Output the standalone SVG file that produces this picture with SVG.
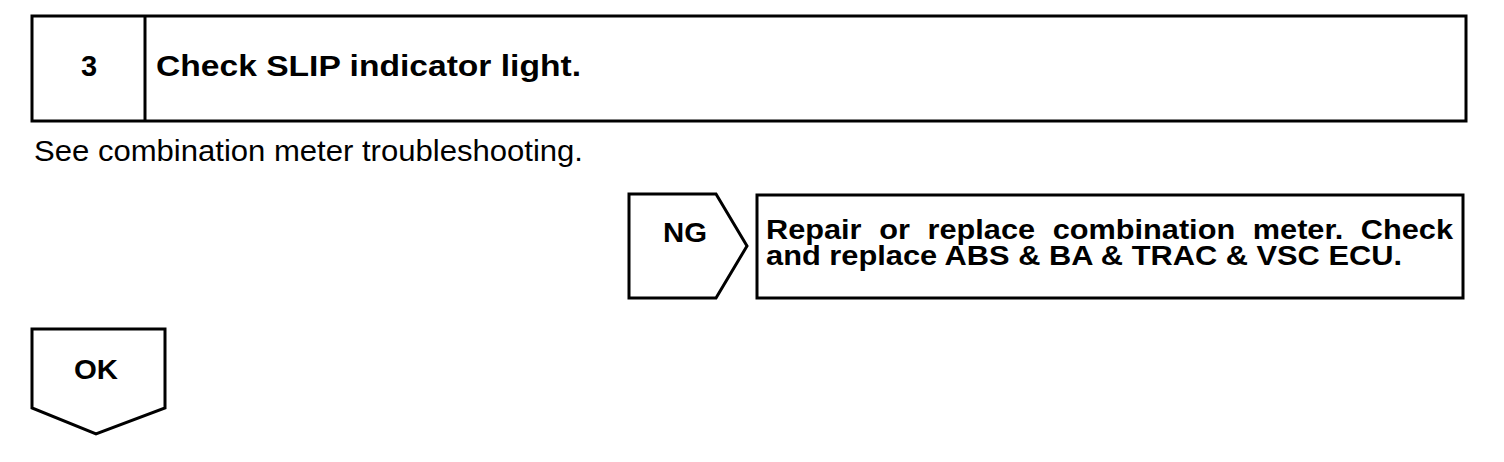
<svg xmlns="http://www.w3.org/2000/svg" width="1504" height="462" viewBox="0 0 1504 462">
<style>
.box{fill:#fff;stroke:#000;stroke-width:3;stroke-linejoin:miter}
.b{font-family:"Liberation Sans",Arial,sans-serif;font-weight:bold;fill:#000}
.r{font-family:"Liberation Sans",Arial,sans-serif;fill:#000}
</style>
<rect width="1504" height="462" fill="#fff"/>
<g id="step3">
<rect class="box" x="32" y="16" width="1434" height="105"/>
<line x1="145" y1="16" x2="145" y2="121" stroke="#000" stroke-width="3"/>
<text class="b" x="89" y="76" font-size="29" text-anchor="middle">3</text>
<text class="b" x="156" y="76" font-size="29" textLength="425" lengthAdjust="spacingAndGlyphs">Check SLIP indicator light.</text>
</g>
<g id="note">
<text class="r" x="34" y="161" font-size="29" textLength="549" lengthAdjust="spacingAndGlyphs">See combination meter troubleshooting.</text>
</g>
<g id="ng">
<path class="box" d="M629,194 H716 L747,246 L716,298 H629 Z"/>
<text class="b" x="663" y="242" font-size="27" textLength="44" lengthAdjust="spacingAndGlyphs">NG</text>
</g>
<g id="repair">
<rect class="box" x="757" y="195" width="706" height="103"/>
<text class="b" x="766" y="239" font-size="27" word-spacing="8" textLength="687" lengthAdjust="spacingAndGlyphs">Repair or replace combination meter. Check</text>
<text class="b" x="766" y="265" font-size="27" textLength="636" lengthAdjust="spacingAndGlyphs">and replace ABS &amp; BA &amp; TRAC &amp; VSC ECU.</text>
</g>
<g id="ok">
<path class="box" d="M32,329 H165 V408 L96,434 L32,408 Z"/>
<text class="b" x="74" y="379" font-size="27" textLength="44" lengthAdjust="spacingAndGlyphs">OK</text>
</g>
<g id="connectors"></g>
</svg>
